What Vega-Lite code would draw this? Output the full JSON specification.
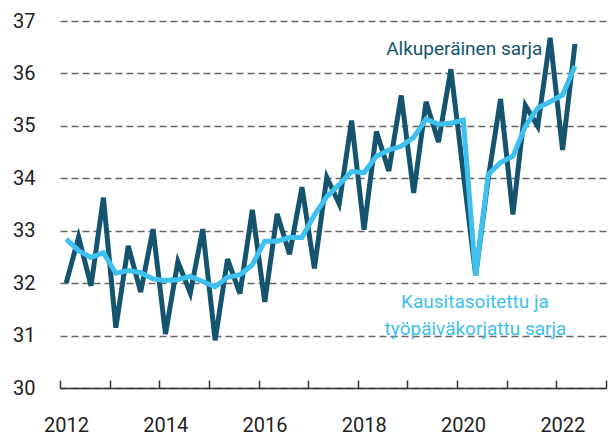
{
  "$schema": "https://vega.github.io/schema/vega-lite/v6.json",
  "width": 546,
  "height": 367,
  "autosize": {"type": "none"},
  "padding": {"left": 60, "top": 21, "right": 5, "bottom": 50},
  "background": "white",
  "config": {"view": {"stroke": null}, "font": "Roboto"},
  "datasets": {
    "q": [
      {"t": 2012.125, "orig": 32.0, "sa": 32.84},
      {"t": 2012.375, "orig": 32.88, "sa": 32.62},
      {"t": 2012.625, "orig": 31.95, "sa": 32.49},
      {"t": 2012.875, "orig": 33.63, "sa": 32.58},
      {"t": 2013.125, "orig": 31.15, "sa": 32.19},
      {"t": 2013.375, "orig": 32.71, "sa": 32.24},
      {"t": 2013.625, "orig": 31.83, "sa": 32.2},
      {"t": 2013.875, "orig": 33.03, "sa": 32.08},
      {"t": 2014.125, "orig": 31.03, "sa": 32.05},
      {"t": 2014.375, "orig": 32.41, "sa": 32.07},
      {"t": 2014.625, "orig": 31.81, "sa": 32.13},
      {"t": 2014.875, "orig": 33.03, "sa": 32.03},
      {"t": 2015.125, "orig": 30.91, "sa": 31.93},
      {"t": 2015.375, "orig": 32.46, "sa": 32.11},
      {"t": 2015.625, "orig": 31.8, "sa": 32.16},
      {"t": 2015.875, "orig": 33.4, "sa": 32.35},
      {"t": 2016.125, "orig": 31.64, "sa": 32.8},
      {"t": 2016.375, "orig": 33.32, "sa": 32.8},
      {"t": 2016.625, "orig": 32.55, "sa": 32.87},
      {"t": 2016.875, "orig": 33.83, "sa": 32.87},
      {"t": 2017.125, "orig": 32.28, "sa": 33.3},
      {"t": 2017.375, "orig": 34.02, "sa": 33.65},
      {"t": 2017.625, "orig": 33.51, "sa": 33.88},
      {"t": 2017.875, "orig": 35.1, "sa": 34.13},
      {"t": 2018.125, "orig": 33.02, "sa": 34.11},
      {"t": 2018.375, "orig": 34.89, "sa": 34.42},
      {"t": 2018.625, "orig": 34.14, "sa": 34.54},
      {"t": 2018.875, "orig": 35.58, "sa": 34.61},
      {"t": 2019.125, "orig": 33.72, "sa": 34.78},
      {"t": 2019.375, "orig": 35.46, "sa": 35.13},
      {"t": 2019.625, "orig": 34.69, "sa": 35.03},
      {"t": 2019.875, "orig": 36.08, "sa": 35.05},
      {"t": 2020.125, "orig": 34.1, "sa": 35.11},
      {"t": 2020.375, "orig": 32.15, "sa": 32.14},
      {"t": 2020.625, "orig": 33.98, "sa": 34.07},
      {"t": 2020.875, "orig": 35.51, "sa": 34.3},
      {"t": 2021.125, "orig": 33.31, "sa": 34.42},
      {"t": 2021.375, "orig": 35.39, "sa": 34.99},
      {"t": 2021.625, "orig": 34.99, "sa": 35.34},
      {"t": 2021.875, "orig": 36.68, "sa": 35.46},
      {"t": 2022.125, "orig": 34.54, "sa": 35.59},
      {"t": 2022.375, "orig": 36.56, "sa": 36.14}
    ],
    "lab": [
      {"t": 2020.145, "v": 36.35, "label": "Alkuperäinen sarja", "s": "orig"},
      {"t": 2020.36, "v": 31.53, "label": "Kausitasoitettu ja", "s": "sa"},
      {"t": 2020.37, "v": 31.02, "label": "työpäiväkorjattu sarja", "s": "sa"}
    ]
  },
  "layer": [
    {
      "data": {"name": "q"},
      "mark": {"type": "line", "color": "#15546f", "strokeWidth": 5, "strokeJoin": "miter", "strokeMiterLimit": 4},
      "encoding": {
        "x": {
          "field": "t", "type": "quantitative",
          "scale": {"domain": [2012, 2023], "nice": false, "zero": false},
          "axis": {
            "title": null,
            "values": [2012, 2013, 2014, 2015, 2016, 2017, 2018, 2019, 2020, 2021, 2022, 2023],
            "format": "d",
            "labelExpr": "datum.value % 2 == 0 && datum.value < 2023 ? datum.label : ''",
            "labelOffset": 6,
            "labelFlush": false,
            "labelOverlap": false,
            "labelFontSize": 20,
            "labelColor": "#222222",
            "labelPadding": 35,
            "tickSize": -8,
            "tickColor": "#333333",
            "tickWidth": 1.5,
            "domainColor": "#333333",
            "domainWidth": 1.5,
            "grid": false
          }
        },
        "y": {
          "field": "orig", "type": "quantitative",
          "scale": {"domain": [30, 37], "nice": false, "zero": false},
          "axis": {
            "title": null,
            "values": [30, 31, 32, 33, 34, 35, 36, 37],
            "format": "d",
            "grid": true,
            "gridDash": [7, 4],
            "gridColor": "#666666",
            "gridWidth": 1.3,
            "domain": false,
            "ticks": false,
            "labelPadding": 25,
            "labelFontSize": 20,
            "labelColor": "#222222"
          }
        }
      }
    },
    {
      "data": {"name": "q"},
      "mark": {"type": "line", "color": "#3ec1ee", "strokeWidth": 5, "strokeJoin": "miter", "strokeMiterLimit": 4},
      "encoding": {
        "x": {"field": "t", "type": "quantitative"},
        "y": {"field": "sa", "type": "quantitative"}
      }
    },
    {
      "data": {"name": "lab"},
      "mark": {"type": "text", "fontSize": 19, "align": "center", "baseline": "alphabetic"},
      "encoding": {
        "x": {"field": "t", "type": "quantitative"},
        "y": {"field": "v", "type": "quantitative"},
        "text": {"field": "label"},
        "color": {"field": "s", "type": "nominal", "scale": {"domain": ["orig", "sa"], "range": ["#15546f", "#3ec1ee"]}, "legend": null}
      }
    }
  ]
}
